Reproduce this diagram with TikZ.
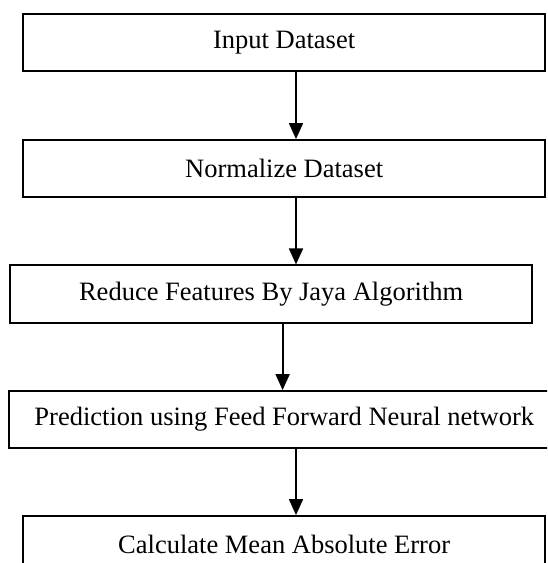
\documentclass[tikz,border=0pt]{standalone}
\usepackage{fontspec}
\setmainfont{Liberation Serif}
\usetikzlibrary{arrows.meta}
\begin{document}
\begin{tikzpicture}[x=1pt,y=-1pt,
  box/.style={draw=black,line width=1.8pt,rectangle,inner sep=0pt,
    minimum height=57.3pt,font=\fontsize{26.5}{30}\selectfont},
  flow/.style={line width=1.8pt,-{Triangle[width=14pt,length=16pt]}}]
\useasboundingbox (0,0) rectangle (547,563);
\clip (0,0) rectangle (547,563);
\node[box,minimum width=521.7pt] (b1) at (284.15,42.65) {Input Dataset};
\node[box,minimum width=521.7pt] (b2) at (284.15,168.65) {Normalize Dataset};
\node[box,minimum width=522.3pt] (b3) at (271.15,294) {Reduce Features By Jaya Algorithm};
\node[box,minimum width=550pt,minimum height=56.7pt] (b4) at (284.3,419.35) {Prediction using Feed Forward Neural network};
\node[box,minimum width=521.7pt] (b5) at (284.15,544.65) {Calculate Mean Absolute Error};
\draw[flow] ([xshift=11.85pt]b1.south) -- ([xshift=11.85pt]b1.south |- b2.north);
\draw[flow] ([xshift=11.85pt]b2.south) -- ([xshift=11.85pt]b2.south |- b3.north);
\draw[flow] ([xshift=11.45pt]b3.south) -- ([xshift=11.45pt]b3.south |- b4.north);
\draw[flow] ([xshift=11.7pt]b4.south) -- ([xshift=11.7pt]b4.south |- b5.north);
\end{tikzpicture}
\end{document}
